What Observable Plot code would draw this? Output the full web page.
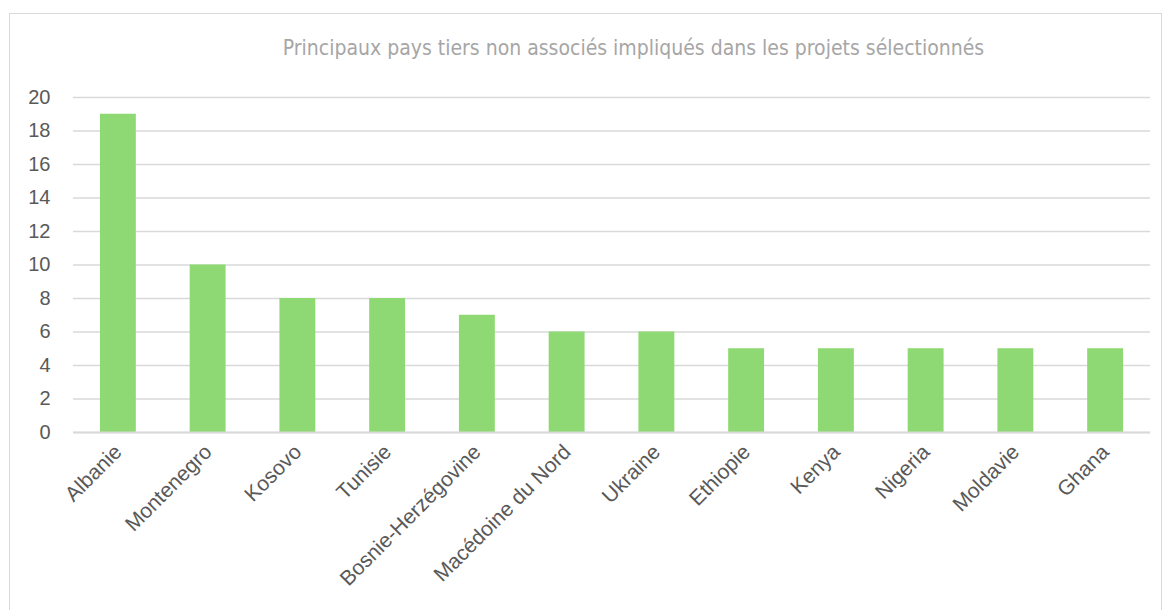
<!DOCTYPE html>
<html><head><meta charset="utf-8">
<script src="https://cdn.jsdelivr.net/npm/d3@7"></script>
<script src="https://cdn.jsdelivr.net/npm/@observablehq/plot@0.6"></script>
<style>
body{margin:0;background:#fff;width:1165px;height:610px;overflow:hidden;position:relative;font-family:"Liberation Sans",Arial,sans-serif;}
#frame{position:absolute;left:9px;top:13px;width:1153px;height:700px;border:1.5px solid #d9d9d9;box-sizing:border-box;}
#title{position:absolute;left:0;width:1267px;top:36px;text-align:center;font-family:"Liberation Sans Narrow","DejaVu Sans Condensed",sans-serif;font-size:21px;color:#a6a6a6;}
#chart{position:absolute;left:0;top:0;}
</style></head>
<body>
<div id="frame"></div>
<div id="title">Principaux pays tiers non associés impliqués dans les projets sélectionnés</div>
<div id="chart"></div>
<script>
const countries = ["Albanie","Montenegro","Kosovo","Tunisie","Bosnie-Herzégovine","Macédoine du Nord","Ukraine","Ethiopie","Kenya","Nigeria","Moldavie","Ghana"];
const counts = [19,10,8,8,7,6,6,5,5,5,5,5];
const yTicks = [0,2,4,6,8,10,12,14,16,18,20];
const data = countries.map((c,i)=>({country:c, value:counts[i]}));

const chart = Plot.plot({
  width: 1165,
  height: 610,
  marginLeft: 73,
  marginRight: 15,
  marginTop: 97,
  marginBottom: 178,
  style: {fontFamily: "'Liberation Sans', Arial, sans-serif", background: "transparent", color: "#595959"},
  x: {domain: countries, paddingInner: 0.6, paddingOuter: 0.3, round: false, label: null},
  y: {domain: [0,20], label: null},
  marks: [
    Plot.gridY(yTicks, {stroke: "#d9d9d9", strokeOpacity: 1, strokeWidth: 1.5}),
    Plot.barY(data, {x: "country", y: "value", fill: "#8ED973"}),
    Plot.ruleY([0], {stroke: "#d9d9d9", strokeWidth: 2}),
    Plot.axisY(yTicks, {tickSize: 0, tickPadding: 23, fontSize: 20, fill: "#595959", label: null}),
    Plot.axisX({tickSize: 0, tickPadding: 16, tickRotate: -45, fontSize: 21, fill: "#595959", label: null})
  ]
});
document.getElementById("chart").appendChild(chart);
</script>
</body></html>
